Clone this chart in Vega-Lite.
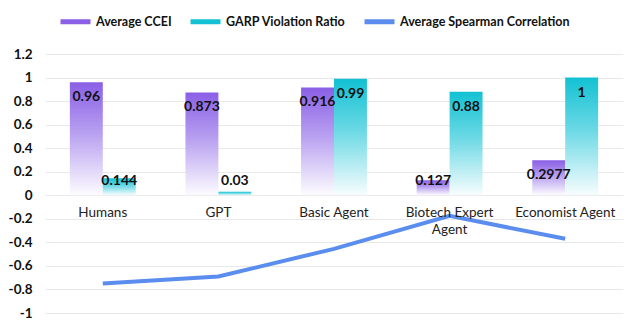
{
  "$schema": "https://vega.github.io/schema/vega-lite/v6.json",
  "width": 578,
  "height": 259,
  "autosize": {"type": "none"},
  "padding": {"left": 45, "top": 54, "right": 17, "bottom": 18},
  "background": "white",
  "config": {"view": {"stroke": null}, "font": "Lato"},
  "data": {
    "values": [
      {"category": "Humans", "series": "Average CCEI", "value": 0.96},
      {"category": "GPT", "series": "Average CCEI", "value": 0.873},
      {"category": "Basic Agent", "series": "Average CCEI", "value": 0.916},
      {"category": "Biotech Expert Agent", "series": "Average CCEI", "value": 0.127},
      {"category": "Economist Agent", "series": "Average CCEI", "value": 0.2977},
      {"category": "Humans", "series": "GARP Violation Ratio", "value": 0.144},
      {"category": "GPT", "series": "GARP Violation Ratio", "value": 0.03},
      {"category": "Basic Agent", "series": "GARP Violation Ratio", "value": 0.99},
      {"category": "Biotech Expert Agent", "series": "GARP Violation Ratio", "value": 0.88},
      {"category": "Economist Agent", "series": "GARP Violation Ratio", "value": 1},
      {"category": "Humans", "series": "Average Spearman Correlation", "value": -0.75},
      {"category": "GPT", "series": "Average Spearman Correlation", "value": -0.69},
      {"category": "Basic Agent", "series": "Average Spearman Correlation", "value": -0.455},
      {"category": "Biotech Expert Agent", "series": "Average Spearman Correlation", "value": -0.175},
      {"category": "Economist Agent", "series": "Average Spearman Correlation", "value": -0.37}
    ]
  },
  "encoding": {
    "x": {
      "field": "category",
      "type": "nominal",
      "sort": null,
      "scale": {"paddingInner": 0.43, "paddingOuter": 0.215},
      "axis": {
        "orient": "bottom",
        "offset": -118,
        "title": null,
        "domain": false,
        "ticks": false,
        "labelAngle": 0,
        "labelPadding": 10,
        "labelFontSize": 13.5,
        "labelColor": "#222222",
        "labelOverlap": false,
        "labelLineHeight": 17,
        "labelExpr": "datum.value == 'Biotech Expert Agent' ? ['Biotech Expert', 'Agent'] : datum.value",
        "zindex": 1
      }
    },
    "y": {
      "field": "value",
      "type": "quantitative",
      "scale": {"domain": [-1, 1.2], "nice": false},
      "axis": {
        "title": null,
        "values": [-1, -0.8, -0.6, -0.4, -0.2, 0, 0.2, 0.4, 0.6, 0.8, 1, 1.2],
        "tickCount": 12,
        "labelExpr": "'' + datum.value",
        "labelOverlap": false,
        "domain": false,
        "ticks": false,
        "grid": true,
        "gridColor": "#e8e8e8",
        "gridWidth": 1,
        "labelPadding": 13,
        "labelFontSize": 13.5,
        "labelFontWeight": "bold",
        "labelColor": "#111111"
      }
    }
  },
  "layer": [
    {
      "transform": [{"filter": "datum.series != 'Average Spearman Correlation'"}],
      "mark": {"type": "bar"},
      "encoding": {
        "xOffset": {
          "field": "series",
          "type": "nominal",
          "scale": {"domain": ["Average CCEI", "GARP Violation Ratio"], "paddingInner": 0, "paddingOuter": 0}
        },
        "fill": {
          "condition": {
            "test": "datum.series == 'Average CCEI'",
            "value": {
              "gradient": "linear", "x1": 0, "y1": 0, "x2": 0, "y2": 1,
              "stops": [
                {"offset": 0, "color": "#8a5fe6"},
                {"offset": 0.45, "color": "#b8a0f0"},
                {"offset": 1, "color": "#fdfcff"}
              ]
            }
          },
          "value": {
            "gradient": "linear", "x1": 0, "y1": 0, "x2": 0, "y2": 1,
            "stops": [
              {"offset": 0, "color": "#12c1d3"},
              {"offset": 0.45, "color": "#6dd9e5"},
              {"offset": 1, "color": "#f8fdfe"}
            ]
          }
        }
      }
    },
    {
      "transform": [
        {"filter": "datum.series != 'Average Spearman Correlation'"},
        {"filter": "datum.value >= 0.2"}
      ],
      "mark": {"type": "text", "baseline": "middle", "dy": 15, "fontSize": 14, "fontWeight": "bold", "color": "#111111"},
      "encoding": {
        "xOffset": {"field": "series", "type": "nominal"},
        "text": {"field": "value", "type": "quantitative", "format": "~g"}
      }
    },
    {
      "transform": [
        {"filter": "datum.series != 'Average Spearman Correlation'"},
        {"filter": "datum.value < 0.2"}
      ],
      "mark": {"type": "text", "baseline": "middle", "fontSize": 14, "fontWeight": "bold", "color": "#111111"},
      "encoding": {
        "y": {"datum": 0.125, "type": "quantitative"},
        "xOffset": {"field": "series", "type": "nominal"},
        "text": {"field": "value", "type": "quantitative", "format": "~g"}
      }
    },
    {
      "transform": [{"filter": "datum.series == 'Average Spearman Correlation'"}],
      "mark": {"type": "line", "strokeWidth": 4},
      "encoding": {
        "color": {
          "field": "series",
          "type": "nominal",
          "scale": {
            "domain": ["Average CCEI", "GARP Violation Ratio", "Average Spearman Correlation"],
            "range": ["#8a5fe6", "#12c1d3", "#5b8def"]
          },
          "legend": {
            "orient": "none",
            "legendX": 13,
            "legendY": -50,
            "direction": "horizontal",
            "title": null,
            "symbolType": "stroke",
            "symbolSize": 900,
            "symbolStrokeWidth": 5,
            "labelFontSize": 12.5,
            "labelFontWeight": "bold",
            "labelColor": "#111111",
            "labelOffset": 3,
            "labelLimit": 300,
            "columnPadding": 8
          }
        }
      }
    }
  ]
}
